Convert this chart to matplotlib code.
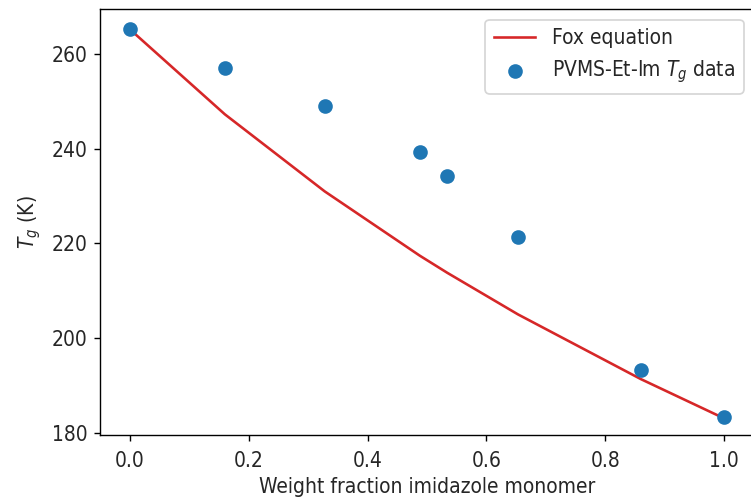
import matplotlib
matplotlib.use("Agg")
import matplotlib.pyplot as plt

# Experimental data
w_data = [0.0, 0.160, 0.328, 0.488, 0.534, 0.653, 0.860, 1.0]
tg_data = [265.3, 257.0, 249.1, 239.3, 234.3, 221.4, 193.3, 183.4]

# Fox equation curve
w_fox = [0.0, 0.160, 0.328, 0.488, 0.534, 0.653, 0.860, 1.0]
tg_fox = [265.3, 247.3, 231.0, 217.4, 213.8, 205.0, 191.3, 183.0]

plt.rcParams["font.family"] = ["DejaVu Sans"]
plt.rcParams["font.stretch"] = "condensed"
plt.rcParams["mathtext.fontset"] = "dejavusans"
plt.rcParams["font.size"] = 12
plt.rcParams["text.color"] = "#262626"
plt.rcParams["xtick.labelcolor"] = "#262626"
plt.rcParams["ytick.labelcolor"] = "#262626"
plt.rcParams["axes.labelcolor"] = "#262626"
plt.rcParams["xtick.major.pad"] = 5.5

fig = plt.figure(figsize=(751 / 125, 497 / 125), dpi=125)
ax = fig.add_axes([100 / 751, 62 / 497, 654 / 751, 425.7 / 497])

ax.plot(w_fox, tg_fox, color="tab:red", lw=1.5, label="Fox equation")
ax.scatter(w_data, tg_data, s=55, color="tab:blue", label="PVMS-Et-Im $T_g$ data", zorder=3)

ax.set_xlim(-0.05, 1.05)
ax.set_ylim(179.5, 269.5)
ax.set_xticks([0.0, 0.2, 0.4, 0.6, 0.8, 1.0])
ax.set_yticks([180, 200, 220, 240, 260])
ax.set_xlabel("Weight fraction imidazole monomer", labelpad=3.5)
ax.set_ylabel("$T_g$ (K)", labelpad=5)
ax.legend(loc="upper right")

fig.savefig("out.png", dpi=125)
